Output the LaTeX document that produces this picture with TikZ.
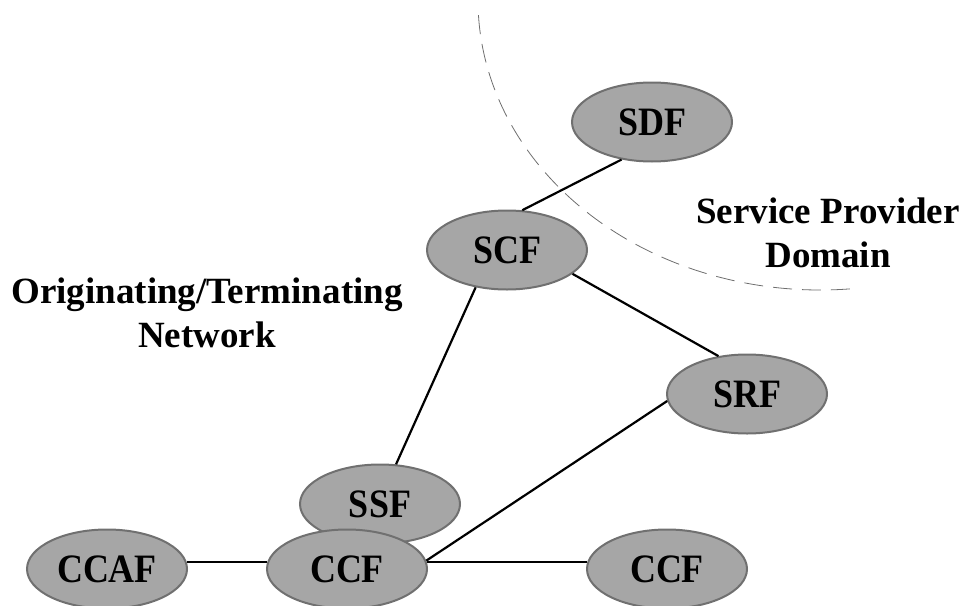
\documentclass[tikz,border=0pt]{standalone}
\usepackage{fontspec}
\setmainfont{Liberation Serif}
\usetikzlibrary{shapes.geometric}

\definecolor{nodefill}{RGB}{166,166,166}
\definecolor{nodeedge}{RGB}{112,112,112}
\definecolor{domainline}{RGB}{110,110,110}

\tikzset{
  func/.style={ellipse, draw=nodeedge, fill=nodefill, line width=2pt,
    minimum width=160pt, minimum height=79pt, inner sep=0pt,
    font=\fontsize{36}{40}\selectfont\bfseries},
  link/.style={line width=2.2pt, black},
  region/.style={align=center, font=\fontsize{37}{44.5}\selectfont\bfseries},
  boundary/.style={domainline, line width=0.8pt, dash pattern=on 19pt off 10pt}
}
\newcommand{\tallname}[1]{\scalebox{1}[1.12]{#1}}

\begin{document}
\begin{tikzpicture}[x=1pt, y=1pt]
  \clip (0,0) rectangle (966,-605);
  \useasboundingbox (0,0) rectangle (966,-605);

  % boundary of the service provider domain
  \draw[boundary] (820,0) ++(183:342pt and 290pt)
    arc[start angle=183, end angle=276, x radius=342pt, y radius=290pt];

  % functional entities
  \node[func] (sdf)  at (652,-122) {\tallname{SDF}};
  \node[func] (scf)  at (507,-250) {\tallname{SCF}};
  \node[func] (srf)  at (747,-394) {\tallname{SRF}};
  \node[func] (ssf)  at (380,-504) {\tallname{SSF}};
  \node[func] (ccf)  at (347,-569) {\tallname{CCF}};
  \node[func] (ccfb) at (667,-569) {\tallname{CCF}};
  \node[func] (ccaf) at (107,-569) {\tallname{CCAF}};

  % relationships
  \draw[link] (sdf.231) -- (scf.69);
  \draw[link] (scf.340) -- (srf.127);
  \draw[link] (scf.230) -- (ssf.68);
  \draw[link] (srf.185) -- (ccf.6);
  \draw[link] (ccf.5)   -- (ccfb.175);
  \draw[link] (ccaf.5)  -- (ccf.175);

  % region labels
  \node[region] (orig) at (207,-313) {Originating/Terminating\\Network};
  \node[region] (spd)  at (828,-233) {Service Provider\\Domain};
\end{tikzpicture}
\end{document}
